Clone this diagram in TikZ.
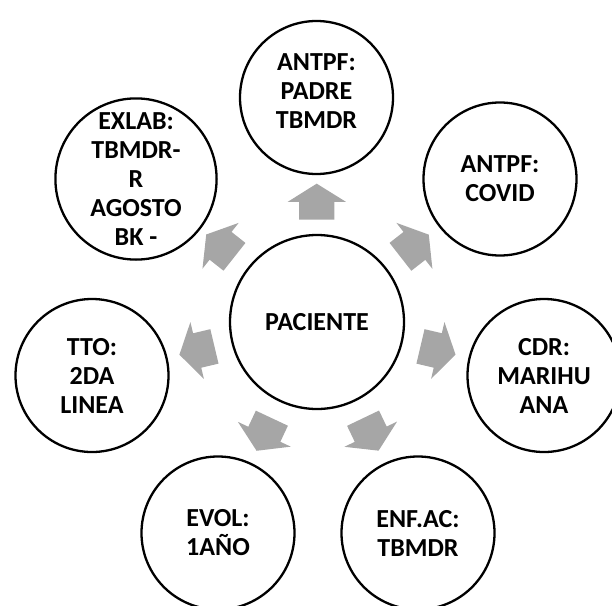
\documentclass[tikz,border=0pt]{standalone}
\usepackage{fontspec}
\setmainfont{Carlito}
\usetikzlibrary{calc,shapes.arrows}
\definecolor{arrowGray}{RGB}{166,166,166}

\begin{document}
\begin{tikzpicture}[x=1pt,y=1pt,
  every node/.style={font=\fontsize{26}{29}\selectfont\bfseries,align=center},
  bubble/.style={draw=black,line width=2.3pt,circle,minimum size=153pt,inner sep=0pt},
  hub/.style={bubble,minimum size=174pt},
  blockarr/.style={shape=single arrow,fill=arrowGray,draw=none,inner xsep=0pt,inner ysep=17.5pt,
    minimum height=36pt,single arrow head extend=11.5pt,single arrow tip angle=116,anchor=tail}]
\useasboundingbox (0,0) rectangle (612,-605);
\node[hub] (pac) at (317,-322) {PACIENTE};
\node[bubble,text depth=12pt] (padre) at (316.5,-97.5) {ANTPF:\\PADRE\\TBMDR};
\node[bubble] (covid) at (500,-179) {ANTPF:\\COVID};
\node[bubble] (cdr) at (544,-375.5) {CDR:\\MARIHU\\ANA};
\node[bubble] (enf) at (418,-533) {ENF.AC:\\TBMDR};
\node[bubble] (evol) at (218,-533) {EVOL:\\1AÑO};
\node[bubble] (tto) at (92,-375.5) {TTO:\\2DA\\LINEA};
\node[bubble] (exlab) at (136,-179) {EXLAB:\\TBMDR-\\R\\AGOSTO\\BK -};
\foreach \n in {padre,covid,cdr,enf,evol,tto,exlab}
  \path (pac.center) -- (\n.center) node[blockarr,pos=0.455,sloped,allow upside down] {};
\end{tikzpicture}
\end{document}
